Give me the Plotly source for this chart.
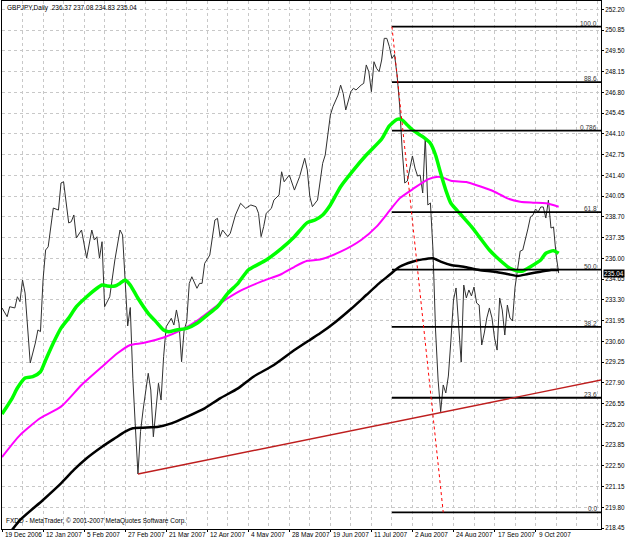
import plotly.graph_objects as go

# ---------------- data (bar index 0 = 19 Dec 2006, daily bars) ----------------
symbol_text = "GBPJPY,Daily"
last_ohlc = [236.37, 237.08, 234.83, 235.04]

close_bar = [0, 2, 3, 5, 6, 7, 8, 9, 11, 13, 14, 15, 16, 17, 18, 20, 22, 23, 24, 26,
             27, 28, 29, 31, 33, 35, 36, 37, 38, 39, 40, 42, 44, 46, 47, 48, 49, 50, 51, 52,
             53, 54, 55, 57, 58, 59, 60, 61, 62, 63, 64, 66, 67, 68, 69, 70, 71, 72, 73, 74,
             76, 77, 78, 79, 81, 83, 84, 85, 86, 88, 89, 91, 93, 95, 97, 99, 100, 101, 102, 103,
             105, 106, 108, 109, 110, 112, 114, 116, 118, 119, 120, 121, 123, 125, 126, 127, 128, 129, 131, 132,
             133, 134, 136, 137, 138, 140, 141, 142, 143, 144, 145, 146, 147, 148, 149, 150, 151, 152, 153, 154,
             155, 156, 157, 158, 159, 160, 161, 162, 163, 164, 165, 166, 167, 168, 169, 170, 171, 172, 173, 174,
             175, 176, 177, 178, 179, 180, 181, 182, 183, 184, 185, 186, 187, 188, 189, 190, 191, 192, 193, 194,
             195, 196, 197, 198, 199, 200, 201, 202, 203, 204, 205, 206, 207, 208, 209, 210, 211, 212, 213, 214,
             215, 216, 217]
close_price = [232.77, 232.20, 232.85, 232.77, 233.50, 233.18, 234.59, 233.74, 229.19, 230.49, 231.34, 231.23, 234.59, 236.54, 236.75, 239.27, 239.14, 240.90, 240.98, 238.30,
               238.38, 238.82, 237.32, 237.84, 236.02, 237.84, 237.19, 237.40, 236.02, 237.08, 232.85, 233.50, 235.89, 237.84, 237.52, 234.39, 231.60, 232.80, 228.20, 225.00,
               221.97, 224.72, 226.13, 228.52, 227.43, 224.39, 226.13, 227.87, 226.78, 229.60, 231.55, 232.10, 231.66, 232.64, 231.77, 229.27, 231.34, 231.88, 234.37, 234.80,
               234.05, 234.37, 234.37, 235.67, 236.21, 238.49, 238.60, 237.41, 237.84, 237.41, 237.63, 238.82, 239.58, 239.25, 239.47, 239.36, 238.93, 237.41, 238.06, 238.93,
               239.25, 239.79, 240.12, 241.63, 240.98, 241.42, 240.44, 241.31, 242.51, 241.75, 240.01, 239.36, 239.79, 242.18, 242.72, 244.13, 245.32, 245.86, 246.62, 247.27,
               246.73, 245.65, 246.84, 247.06, 246.95, 247.27, 247.38, 248.58, 248.14, 246.84, 248.79, 248.36, 248.14, 248.90, 250.31, 250.31, 249.77, 249.00, 249.25, 247.93,
               245.97, 243.04, 240.90, 241.03, 241.74, 242.66, 241.87, 241.35, 241.42, 240.25, 243.89, 239.47, 239.60, 236.54, 231.34, 228.08, 226.02, 227.76, 227.24, 228.34,
               230.68, 233.29, 234.07, 231.60, 229.25, 234.26, 233.42, 233.94, 233.55, 234.13, 233.09, 232.96, 230.36, 231.14, 232.12, 232.77, 232.12, 230.81, 230.03, 233.42,
               232.64, 231.01, 232.96, 232.12, 231.92, 234.13, 235.24, 236.47, 236.54, 237.19, 237.91, 238.69, 238.82, 239.21, 239.01, 239.34, 239.34, 238.62, 239.79, 237.97,
               238.04, 236.21, 235.04]

green_bar = [0, 4, 6, 9, 12, 15, 17, 20, 23, 26, 29, 33, 37, 39, 41, 44, 46, 48, 50, 53,
             57, 60, 63, 65, 68, 72, 76, 80, 84, 88, 92, 96, 103, 109, 114, 119, 122, 125, 128, 132,
             137, 142, 148, 151, 154, 156, 158, 160, 164, 167, 169, 171, 173, 175, 179, 183, 186, 190, 194, 198,
             201, 203, 206, 210, 212, 215, 217]
green_ma = [225.87, 226.91, 227.56, 228.21, 228.30, 228.62, 229.38, 230.49, 231.46, 232.11, 232.85, 233.50, 234.05, 234.26, 234.20, 234.20, 234.37, 234.59, 234.26, 233.40,
            232.42, 231.88, 231.34, 231.22, 231.34, 231.44, 231.77, 232.31, 232.85, 233.72, 234.37, 235.24, 235.89, 236.65, 237.41, 238.32, 238.49, 238.82, 239.47, 240.66,
            241.74, 242.72, 243.76, 244.61, 245.04, 245.00, 244.67, 244.35, 243.91, 243.48, 242.72, 241.53, 240.44, 239.58, 238.82, 238.06, 237.41, 236.54, 235.89, 235.35,
            235.17, 235.17, 235.45, 235.89, 236.33, 236.50, 236.33]

magenta_bar = [0, 7, 15, 23, 31, 39, 45, 50, 55, 63, 70, 77, 85, 93, 101, 109, 114, 119, 124, 132,
               140, 146, 151, 155, 160, 166, 170, 172, 175, 181, 186, 192, 197, 202, 207, 212, 217]
magenta_ma = [223.07, 224.50, 225.61, 226.35, 227.76, 228.95, 229.82, 230.36, 230.49, 230.85, 231.34, 232.05, 233.07, 233.90, 234.48, 234.98, 235.45, 235.84, 235.92, 236.43,
              237.19, 238.06, 239.08, 239.90, 240.49, 241.14, 241.31, 241.24, 241.05, 240.96, 240.70, 240.33, 239.90, 239.68, 239.62, 239.58, 239.36]

black_bar = [0, 4, 7, 16, 23, 28, 33, 39, 44, 48, 51, 55, 61, 66, 72, 79, 85, 92, 98, 106,
             114, 120, 124, 130, 136, 142, 147, 151, 155, 160, 164, 168, 171, 175, 180, 186, 192, 197, 201, 205,
             210, 214, 217]
black_ma = [217.70, 218.35, 218.97, 220.28, 221.36, 222.23, 222.99, 223.74, 224.29, 224.72, 224.94, 224.98, 225.04, 225.26, 225.69, 226.24, 226.89, 227.54, 228.30, 229.06,
            230.03, 230.69, 231.12, 231.86, 232.70, 233.61, 234.37, 234.91, 235.45, 235.78, 235.93, 236.00, 235.78, 235.56, 235.45, 235.24, 235.13, 234.98, 234.85, 234.98,
            235.13, 235.24, 235.24]

date_tick_bar = [0, 16, 32, 48, 64, 80, 96, 112, 128, 144, 160, 176, 192, 208]
date_labels = ["19 Dec 2006", "12 Jan 2007", "5 Feb 2007", "27 Feb 2007", "21 Mar 2007",
               "12 Apr 2007", "4 May 2007", "28 May 2007", "19 Jun 2007", "11 Jul 2007",
               "2 Aug 2007", "24 Aug 2007", "17 Sep 2007", "9 Oct 2007"]
price_ticks = [218.45, 219.80, 221.15, 222.50, 223.85, 225.20, 226.55, 227.90, 229.25, 230.60,
               231.95, 233.30, 234.65, 236.00, 237.35, 238.70, 240.05, 241.40, 242.75, 244.10,
               245.45, 246.80, 248.15, 249.50, 250.85, 252.20]

# Fibonacci retracement object
fib_bars = [152, 172]
fib_prices = [251.07, 219.47]
fib_ratios = [1.0, 0.886, 0.786, 0.618, 0.5, 0.382, 0.236, 0.0]
fib_labels = ["100.0", "88.6", "0.786", "61.8", "50.0", "38.2", "23.6", "0.0"]

# trend line object (ray)
trend_bars = [53, 172]
trend_prices = [221.97, 226.00]

x_range = [0, 233.5]
y_range = [218.39, 252.74]

FONT = "Tahoma, 'Liberation Sans', Arial, sans-serif"

fig = go.Figure()

# price (close line)
fig.add_trace(go.Scatter(x=close_bar, y=close_price, mode="lines",
                         line=dict(color="#303030", width=1), hoverinfo="skip"))
# moving averages
fig.add_trace(go.Scatter(x=magenta_bar, y=magenta_ma, mode="lines",
                         line=dict(color="#FF00FF", width=2, shape="spline", smoothing=0.6), hoverinfo="skip"))
fig.add_trace(go.Scatter(x=green_bar, y=green_ma, mode="lines",
                         line=dict(color="#00FF00", width=3.5, shape="spline", smoothing=0.6), hoverinfo="skip"))
fig.add_trace(go.Scatter(x=black_bar, y=black_ma, mode="lines",
                         line=dict(color="#000000", width=2.5, shape="spline", smoothing=0.6), hoverinfo="skip"))

# fibonacci levels
lo, hi = min(fib_prices), max(fib_prices)
fx, fy = [], []
for r in fib_ratios:
    lvl = lo + r * (hi - lo)
    fx += [min(fib_bars), x_range[1], None]
    fy += [lvl, lvl, None]
fig.add_trace(go.Scatter(x=fx, y=fy, mode="lines", line=dict(color="#000000", width=1.8),
                         hoverinfo="skip"))
fig.add_trace(go.Scatter(x=fib_bars, y=fib_prices, mode="lines",
                         line=dict(color="#FF0000", width=1, dash="dot"), hoverinfo="skip"))

# trend ray
slope = (trend_prices[1] - trend_prices[0]) / (trend_bars[1] - trend_bars[0])
ray_end = trend_prices[0] + slope * (x_range[1] + 2 - trend_bars[0])
fig.add_trace(go.Scatter(x=[trend_bars[0], x_range[1] + 2], y=[trend_prices[0], ray_end], mode="lines",
                         line=dict(color="#BE1E1E", width=1.4), hoverinfo="skip"))

annotations = []
for b, t in zip(date_tick_bar, date_labels):
    annotations.append(dict(x=b, xref="x", y=0, yref="paper", text=t, showarrow=False,
                            xanchor="left", yanchor="top", xshift=1, yshift=0,
                            font=dict(family=FONT, size=6.5, color="#000000")))
for r, t in zip(fib_ratios, fib_labels):
    annotations.append(dict(x=1, xref="paper", y=lo + r * (hi - lo), yref="y", text=t,
                            showarrow=False, xanchor="right", yanchor="bottom", xshift=-2, yshift=-2,
                            font=dict(family=FONT, size=6.5, color="#333333")))
annotations.append(dict(x=0, xref="paper", y=1, yref="paper",
                        text=symbol_text + "  " + " ".join(f"{v:.2f}" for v in last_ohlc),
                        showarrow=False, xanchor="left", yanchor="top", xshift=3, yshift=-1,
                        font=dict(family=FONT, size=6.5, color="#000000")))
annotations.append(dict(x=0, xref="paper", y=0, yref="paper",
                        text="FXDD - MetaTrader, © 2001-2007 MetaQuotes Software Corp.",
                        showarrow=False, xanchor="left", yanchor="bottom", xshift=2, yshift=2,
                        font=dict(family=FONT, size=6.5, color="#000000")))
annotations.append(dict(x=1, xref="paper", y=last_ohlc[3], yref="y", text=f"{last_ohlc[3]:.2f}",
                        showarrow=False, xanchor="left", yanchor="middle", xshift=2,
                        bgcolor="#000000", borderpad=0,
                        font=dict(family=FONT, size=6.3, color="#FFFFFF")))

fig.update_layout(
    width=625, height=537,
    margin=dict(l=2, r=24, t=1, b=8, pad=0),
    paper_bgcolor="white", plot_bgcolor="white",
    showlegend=False,
    font=dict(family=FONT, size=6.5, color="black"),
    annotations=annotations,
    xaxis=dict(range=x_range, tickvals=date_tick_bar, showticklabels=False,
               ticks="outside", ticklen=2, tickcolor="#000000",
               showgrid=True, gridcolor="#C8C8C8", griddash="dot", gridwidth=1,
               minor=dict(dtick=8, tick0=0, showgrid=True, gridcolor="#C8C8C8", griddash="dot", ticks=""),
               showline=True, linecolor="#000000", linewidth=1, mirror=True, zeroline=False),
    yaxis=dict(range=y_range, side="right", tickvals=price_ticks,
               ticktext=[f"{v:.2f}" for v in price_ticks],
               ticks="outside", ticklen=2, tickcolor="#000000",
               tickfont=dict(family=FONT, size=6.3, color="#000000"),
               showgrid=True, gridcolor="#C8C8C8", griddash="dot", gridwidth=1,
               showline=True, linecolor="#000000", linewidth=1, mirror=True, zeroline=False),
)

fig.write_html("out.html")
